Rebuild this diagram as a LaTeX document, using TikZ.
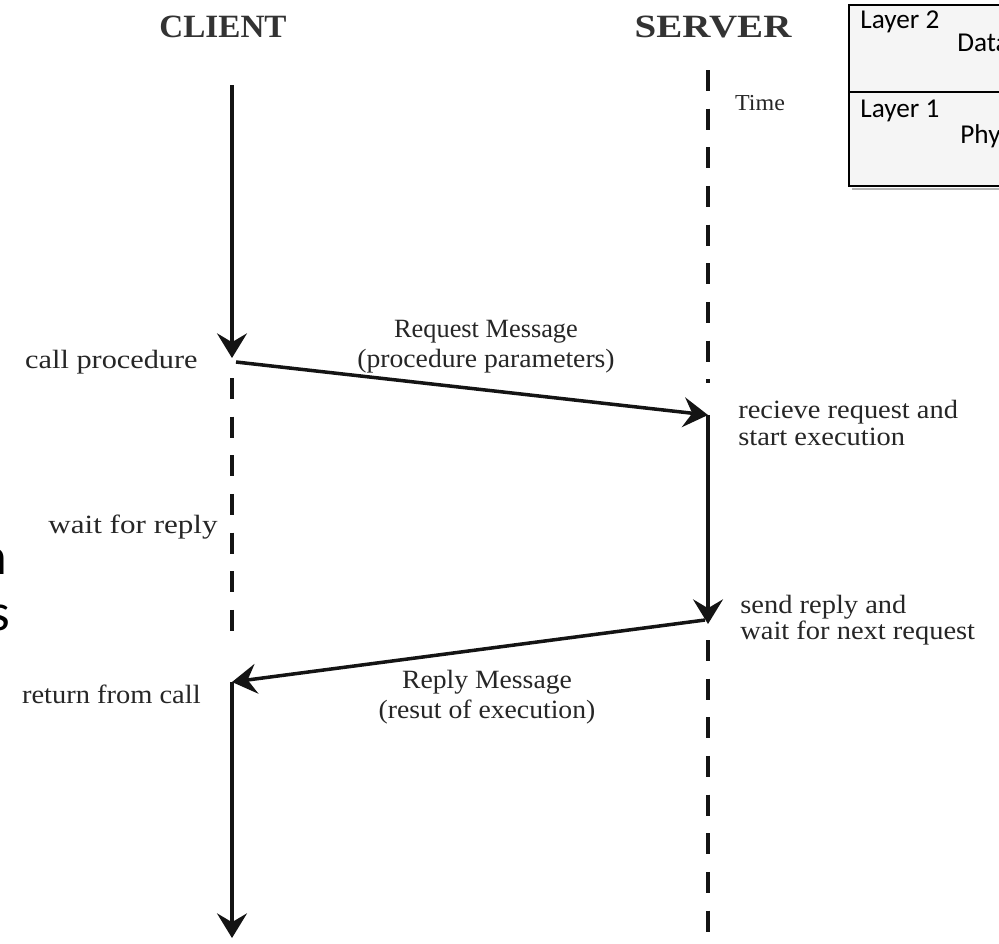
\documentclass[tikz,border=0pt]{standalone}
\usepackage{fontspec}
\usepackage{graphicx}
\setmainfont{Liberation Serif}
\newfontfamily\carl{Carlito}
\newcommand\wx[2]{\scalebox{#1}[1]{#2}}
\usetikzlibrary{arrows.meta}
\begin{document}
\begin{tikzpicture}[x=0.02cm,y=-0.02cm,
  life/.style={line width=2pt,draw=black!92},
  dashlife/.style={line width=2pt,draw=black!92,dash pattern=on 12pt off 10pt},
  tip/.style={-{Stealth[length=14pt,width=17pt,inset=5pt]}},
  lbl/.style={font=\fontsize{15}{15}\selectfont,text=black!85,inner sep=0pt,align=left},
  msg/.style={font=\fontsize{15}{17}\selectfont,text=black!85,inner sep=0pt,align=center},
  title/.style={font=\fontsize{18.5}{20}\selectfont\bfseries,text=black!80,inner sep=0pt},
  lay/.style={font=\carl\fontsize{15.5}{17}\selectfont,inner sep=0pt,anchor=west}]
\useasboundingbox (0,0) rectangle (999,943);
\fill[white] (0,0) rectangle (999,943);
% table corner
\begin{scope}
\clip (0,0) rectangle (999,943);
\draw[line width=1.5pt,draw=black!30] (852,189) -- (1010,189);
\node[draw=black,line width=1.2pt,fill=blue!4!black!4,minimum width=200*0.02cm,minimum height=181*0.02cm,anchor=north west,inner sep=0pt] (tbox) at (848,4) {};
\draw[line width=0.9pt] (848,92) -- (1020,92);
\node[lay] (l2) at (860,22) {Layer 2};
\node[lay] (d2) at (957,43) {Data};
\node[lay] (l1) at (860,111) {Layer 1};
\node[lay] (p1) at (960,136) {Phy};
% left edge fragments
\node[font=\carl\fontsize{30}{32}\selectfont,anchor=east,inner sep=0pt] (fn) at (8,562) {n};
\node[font=\carl\fontsize{30}{32}\selectfont,anchor=east,inner sep=0pt] (fs) at (10,618) {s};
\end{scope}
% titles
\node[title] (client) at (223,27) {\wx{1.02}{CLIENT}};
\node[title] (server) at (713,27) {\wx{1.2}{SERVER}};
% coordinates
\coordinate (c0) at (232,85);
\coordinate (c1) at (232,358);
\coordinate (c1b) at (232,378);
\coordinate (c2a) at (232,648);
\coordinate (c2) at (232,682);
\coordinate (c3) at (232,938);
\coordinate (s0) at (708,70);
\coordinate (s0b) at (708,383);
\coordinate (s1) at (708,415);
\coordinate (s2) at (708,624);
\coordinate (s2b) at (708,640);
\coordinate (s3) at (708,950);
\coordinate (cr) at (236,362);
\coordinate (sr) at (705,620);
% client lifeline
\draw[life,tip] (c0) -- (c1);
\draw[dashlife] (c1b) -- (c2a);
\draw[life,tip] (c2) -- (c3);
% server lifeline
\draw[dashlife] (s0) -- (s0b);
\draw[life,tip] (s1) -- (s2);
\draw[dashlife] (s2b) -- (s3);
% messages
\draw[life,tip] (cr) -- (s1);
\draw[life,tip] (sr) -- (c2);
% labels
\node[lbl,font=\fontsize{13}{15}\selectfont] (time) at (760,103) {\wx{1.05}{Time}};
\node[msg] (req) at (486,347) {\wx{1.0}{Request Message}\\\wx{1.05}{(procedure parameters)}};
\node[msg] (rep) at (487,697) {\wx{1.05}{Reply Message}\\\wx{1.05}{(resut of execution)}};
\node[lbl,anchor=east] (call) at (198,362) {\wx{1.15}{call procedure}};
\node[lbl,anchor=east] (wait) at (218,527) {\wx{1.18}{wait for reply}};
\node[lbl,anchor=east] (ret) at (201,694) {\wx{1.08}{return from call}};
\node[lbl,anchor=west,font=\fontsize{15}{15}\selectfont] (recv) at (738,423) {\wx{1.08}{recieve request and}\\\wx{1.08}{start execution}};
\node[lbl,anchor=west,font=\fontsize{15}{15}\selectfont] (send) at (740,620) {\wx{1.08}{send reply and}\\\wx{1.08}{wait for next request}};
\end{tikzpicture}
\end{document}
